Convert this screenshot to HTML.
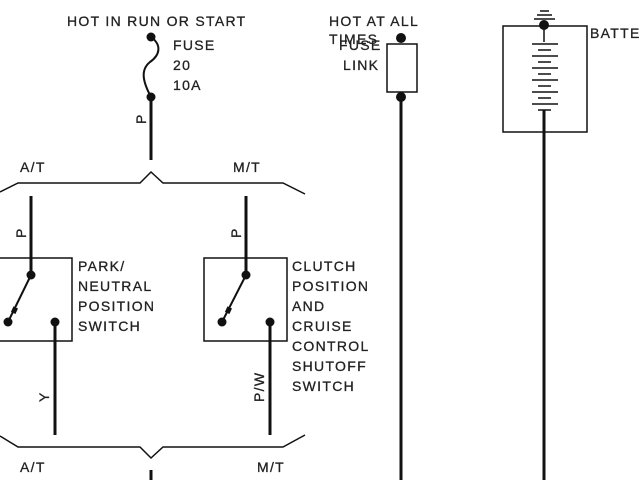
<!DOCTYPE html>
<html><head><style>
html,body{margin:0;padding:0;background:#fff;width:640px;height:480px;overflow:hidden}
svg{display:block}
text{font-family:"Liberation Sans",sans-serif;font-size:14px;letter-spacing:1.3px;fill:#222;stroke:#222;stroke-width:0.3}
</style></head><body>
<svg width="640" height="480" viewBox="0 0 640 480">
<g stroke="#111" fill="none" stroke-width="2">
<path d="M151 37 C162 45,160 55,150 62 C140 70,143 82,151 97" stroke-width="2"/>
<line x1="151" y1="97" x2="151" y2="160" stroke-width="3"/>
<path d="M0 192 L18 183 L140 183 L151 172 L163 183 L283 183 L305 194" stroke-width="1.5"/>
<line x1="31" y1="196" x2="31" y2="275" stroke-width="3"/>
<rect x="-2" y="258" width="74" height="83" stroke-width="1.5"/>
<line x1="31" y1="275" x2="8" y2="322" stroke-width="2"/>
<line x1="55" y1="322" x2="55" y2="435" stroke-width="3"/>
<line x1="246" y1="196" x2="246" y2="275" stroke-width="3"/>
<rect x="204" y="258" width="83" height="83" stroke-width="1.5"/>
<line x1="246" y1="275" x2="222" y2="322" stroke-width="2"/>
<line x1="270" y1="322" x2="270" y2="435" stroke-width="3"/>
<path d="M0 436 L18 447 L140 447 L151 458 L163 447 L283 447 L305 435" stroke-width="1.5"/>
<line x1="151" y1="470" x2="151" y2="480" stroke-width="3"/>
<rect x="387" y="44" width="30" height="48" stroke-width="1.5"/>
<line x1="401" y1="97" x2="401" y2="480" stroke-width="3"/>
<rect x="503" y="26" width="84" height="106" stroke-width="1.5"/>
<line x1="544" y1="26" x2="544" y2="42" stroke-width="1.5"/>
<line x1="544" y1="110" x2="544" y2="480" stroke-width="3"/>
<g stroke-width="1.5">
<line x1="532" y1="44" x2="558" y2="44"/><line x1="538" y1="50" x2="551" y2="50"/>
<line x1="532" y1="56" x2="558" y2="56"/><line x1="538" y1="62" x2="551" y2="62"/>
<line x1="532" y1="68" x2="558" y2="68"/><line x1="538" y1="74" x2="551" y2="74"/>
<line x1="532" y1="80" x2="558" y2="80"/><line x1="538" y1="86" x2="551" y2="86"/>
<line x1="532" y1="92" x2="558" y2="92"/><line x1="538" y1="98" x2="551" y2="98"/>
<line x1="532" y1="104" x2="558" y2="104"/><line x1="538" y1="110" x2="551" y2="110"/>
<line x1="540" y1="11" x2="549" y2="11"/><line x1="537" y1="15" x2="552" y2="15"/><line x1="534" y1="19" x2="555" y2="19"/>
</g>
</g>
<g fill="#111">
<circle cx="151" cy="37" r="4.5"/><circle cx="151" cy="97" r="4.5"/>
<circle cx="31" cy="275" r="4.5"/><circle cx="8" cy="322" r="4.5"/><circle cx="55" cy="322" r="4.5"/>
<circle cx="246" cy="275" r="4.5"/><circle cx="222" cy="322" r="4.5"/><circle cx="270" cy="322" r="4.5"/>
<circle cx="401" cy="38" r="5"/><circle cx="401" cy="97" r="5"/>
<circle cx="544" cy="25" r="5"/>
<rect x="12" y="307" width="5" height="6" transform="rotate(25 14 310)"/>
<rect x="226" y="307" width="5" height="6" transform="rotate(25 228 310)"/>
</g>
<text x="67" y="26">HOT IN RUN OR START</text>
<text x="173" y="50">FUSE</text>
<text x="173" y="70">20</text>
<text x="173" y="90">10A</text>
<text x="20" y="172">A/T</text>
<text x="233" y="172">M/T</text>
<text transform="translate(146,124) rotate(-90)">P</text>
<text transform="translate(26,238) rotate(-90)">P</text>
<text transform="translate(241,238) rotate(-90)">P</text>
<text x="78" y="271">PARK/</text>
<text x="78" y="291">NEUTRAL</text>
<text x="78" y="311">POSITION</text>
<text x="78" y="331">SWITCH</text>
<text x="292" y="271">CLUTCH</text>
<text x="292" y="291">POSITION</text>
<text x="292" y="311">AND</text>
<text x="292" y="331">CRUISE</text>
<text x="292" y="351">CONTROL</text>
<text x="292" y="371">SHUTOFF</text>
<text x="292" y="391">SWITCH</text>
<text transform="translate(49,402) rotate(-90)">Y</text>
<text transform="translate(264,402) rotate(-90)">P/W</text>
<text x="20" y="472">A/T</text>
<text x="257" y="472">M/T</text>
<text x="329" y="26">HOT AT ALL</text>
<text x="329" y="44">TIMES</text>
<text x="339" y="50">FUSE</text>
<text x="343" y="70">LINK</text>
<text x="590" y="38">BATTERY</text>
</svg>
</body></html>
